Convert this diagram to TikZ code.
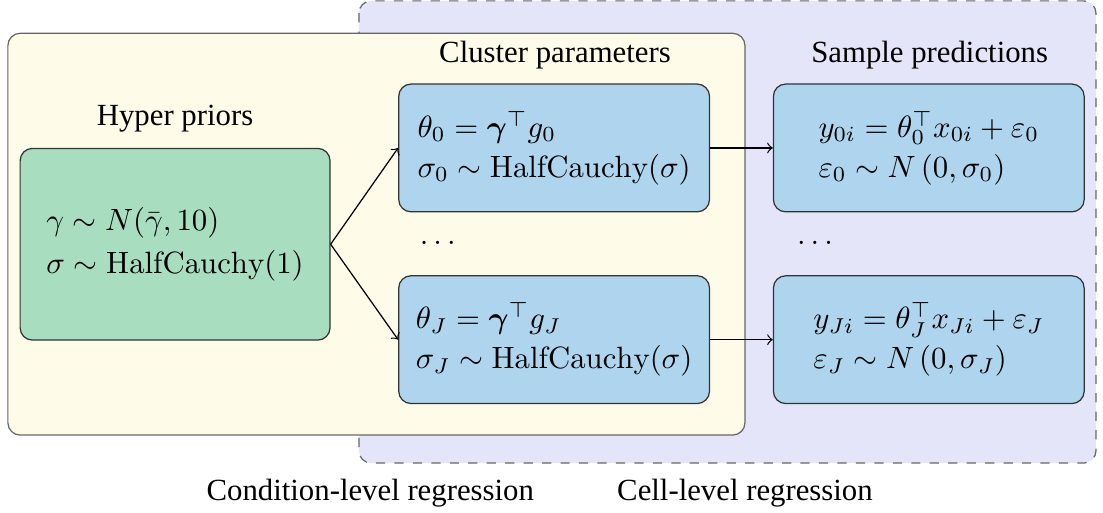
\documentclass[tikz,border=0pt]{standalone}
\usepackage{amsmath,amssymb,amsbsy}
\usepackage{fontspec}
\newfontfamily\labelfont{Liberation Serif}
\usepackage{tikz}
\usetikzlibrary{arrows,positioning}

\definecolor{condfill}{HTML}{FEFBE8}
\definecolor{cellfill}{HTML}{E5E5FA}
\definecolor{priorfill}{HTML}{A8DDBF}
\definecolor{paramfill}{HTML}{AED4EE}

\tikzset{
  prior/.style={draw=black!80, fill=priorfill, rounded corners=4pt, align=left,
    minimum width=3.54cm, minimum height=2.19cm},
  param/.style={draw=black!80, fill=paramfill, rounded corners=4pt, align=left,
    minimum width=3.55cm, minimum height=1.46cm},
  lab/.style={font=\labelfont},
}

\begin{document}
\begin{tikzpicture}
  \useasboundingbox (0,0) rectangle (12.6,-5.85);
  % regression levels
  \draw[dashed, draw=black!60, fill=cellfill, rounded corners=4pt]
    (4.10,-0.01) rectangle (12.52,-5.29);
  \draw[draw=black!60, fill=condfill, rounded corners=4pt]
    (0.09,-0.38) rectangle (8.51,-4.97);

  \node[prior] (hyper) at (2.00,-2.79)
    {$\gamma \sim N(\bar{\gamma}, 10)$\\[2pt] $\sigma \sim \mathrm{HalfCauchy}(1)$};
  \node[param] (c0) at (6.33,-1.69)
    {$\theta_0 = \boldsymbol{\gamma}^\top g_0$\\[1pt] $\sigma_0 \sim \mathrm{HalfCauchy}(\sigma)$};
  \node[param] (cJ) at (6.33,-3.88)
    {$\theta_J = \boldsymbol{\gamma}^\top g_J$\\[1pt] $\sigma_J \sim \mathrm{HalfCauchy}(\sigma)$};
  \node[param] (s0) at (10.61,-1.69)
    {$y_{0i} = \theta_0^\top x_{0i} + \varepsilon_0$\\[1pt] $\varepsilon_0 \sim N\left(0, \sigma_0\right)$};
  \node[param] (sJ) at (10.61,-3.88)
    {$y_{Ji} = \theta_J^\top x_{Ji} + \varepsilon_J$\\[1pt] $\varepsilon_J \sim N\left(0, \sigma_J\right)$};

  \node (cdots) at (5.03,-2.78) {$\dots$};
  \node (sdots) at (9.34,-2.78) {$\dots$};

  \node[lab] (hyperlab) at (2.00,-1.35) {Hyper priors};
  \node[lab] (clab) at (6.34,-0.63) {Cluster parameters};
  \node[lab] (slab) at (10.62,-0.63) {Sample predictions};
  \node[lab] (condlab) at (4.23,-5.63) {Condition-level regression};
  \node[lab] (celllab) at (8.51,-5.63) {Cell-level regression};

  \path[->]
  (hyper.east) edge (c0.west)
               edge (cJ.west)
  (c0) edge (s0)
  (cJ) edge (sJ);
\end{tikzpicture}
\end{document}
